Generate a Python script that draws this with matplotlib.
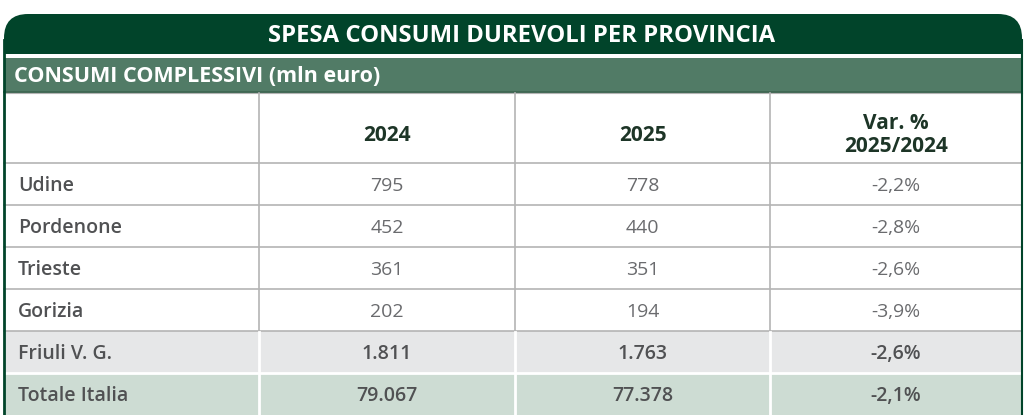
import matplotlib

matplotlib.use("Agg")

import matplotlib.pyplot as plt  # noqa: E402
from matplotlib import font_manager as fm  # noqa: E402
from matplotlib.patches import FancyBboxPatch, Rectangle  # noqa: E402

TITLE = "SPESA CONSUMI DUREVOLI PER PROVINCIA"
SUBTITLE = "CONSUMI COMPLESSIVI (mln euro)"
COLUMNS = ["2024", "2025", "Var. %\n2025/2024"]
ROW_LABELS = ["Udine", "Pordenone", "Trieste", "Gorizia", "Friuli V. G.", "Totale Italia"]
VALUES_2024 = ["795", "452", "361", "202", "1.811", "79.067"]
VALUES_2025 = ["778", "440", "351", "194", "1.763", "77.378"]
VAR_PCT = ["-2,2%", "-2,8%", "-2,6%", "-3,9%", "-2,6%", "-2,1%"]

W, H = 1024, 415
DARK_GREEN = "#01442a"
MID_GREEN = "#517b66"
HEAD_TEXT = "#1d3527"
LABEL_TEXT = "#505153"
VALUE_TEXT = "#6a6b6e"
GRID = "#b4b4b4"
ROW_BG = [None, None, None, None, "#e6e7e8", "#cddcd3"]

col_x = [4, 259, 515, 770, 1022]
header_top, header_bottom = 93, 163
row_h = 42


def open_sans(filename, weight):
    # pick the exact file so a condensed cut is never matched by mistake
    for f in fm.fontManager.ttflist:
        if f.fname.endswith("/" + filename):
            return fm.FontProperties(fname=f.fname)
    return fm.FontProperties(family="Open Sans", weight=weight)


BOLD = open_sans("OpenSans-Bold.ttf", "bold")
SEMI = open_sans("OpenSans-Semibold.ttf", "semibold")
REG = open_sans("OpenSans-Regular.ttf", "normal")

fig = plt.figure(figsize=(W / 100, H / 100), dpi=100)
ax = fig.add_axes([0, 0, 1, 1])
ax.set_xlim(0, W)
ax.set_ylim(H, 0)
ax.axis("off")

# title bar with rounded top corners
ax.add_patch(FancyBboxPatch((4, 14), 1018, 60, boxstyle="round,pad=0,rounding_size=24",
                            facecolor=DARK_GREEN, edgecolor="none"))
ax.add_patch(Rectangle((4, 54), 1018, 4, facecolor="white", edgecolor="none"))
ax.add_patch(Rectangle((4, 58), 1018, 35, facecolor=MID_GREEN, edgecolor="none"))
ax.plot([4, 1022], [92.5, 92.5], color="#3d6450", lw=1.2)
ax.text(W / 2 + 10, 35.5, TITLE, ha="center", va="center", color="white",
        fontproperties=BOLD, fontsize=17.2)
ax.text(14, 77, SUBTITLE, ha="left", va="center", color="white",
        fontproperties=BOLD, fontsize=15.5)

# header row
for i, col in enumerate(COLUMNS):
    cx = (col_x[i + 1] + col_x[i + 2]) / 2
    ax.text(cx, (header_top + header_bottom) / 2 + 7, col, ha="center", va="center",
            color=HEAD_TEXT, fontproperties=BOLD, fontsize=15, linespacing=1.15)

# body rows
for r, label in enumerate(ROW_LABELS):
    top = header_bottom + r * row_h
    cy = top + row_h / 2 + 1.5
    bold = ROW_BG[r] is not None
    if bold:
        ax.add_patch(Rectangle((col_x[0], top), col_x[-1] - col_x[0], row_h,
                               facecolor=ROW_BG[r], edgecolor="none"))
    ax.text(18, cy, label, ha="left", va="center", color=LABEL_TEXT,
            fontproperties=SEMI, fontsize=14)
    for c, vals in enumerate([VALUES_2024, VALUES_2025, VAR_PCT]):
        cx = (col_x[c + 1] + col_x[c + 2]) / 2
        ax.text(cx, cy, vals[r], ha="center", va="center",
                color=LABEL_TEXT if bold else VALUE_TEXT,
                fontproperties=SEMI if bold else REG, fontsize=14)

# grid lines
n_plain = sum(1 for bg in ROW_BG if bg is None)
plain_bottom = header_bottom + n_plain * row_h
for r in range(n_plain + 1):
    y = header_bottom + r * row_h
    ax.plot([col_x[0], col_x[-1]], [y, y], color=GRID, lw=1.2)
ax.plot([col_x[0], col_x[-1]], [header_top, header_top], color=GRID, lw=0.8)
for r in range(n_plain + 1, len(ROW_LABELS)):
    y = header_bottom + r * row_h
    ax.plot([col_x[0], col_x[-1]], [y, y], color="white", lw=2)
for x in col_x[1:-1]:
    ax.plot([x, x], [header_top, plain_bottom], color=GRID, lw=1.2)
    ax.plot([x, x], [plain_bottom + 1, H], color="white", lw=2)

# outer border
ax.plot([4, 4], [40, H], color=DARK_GREEN, lw=2)
ax.plot([1022, 1022], [40, H], color=DARK_GREEN, lw=1.5)

fig.savefig("out.png", dpi=100)
